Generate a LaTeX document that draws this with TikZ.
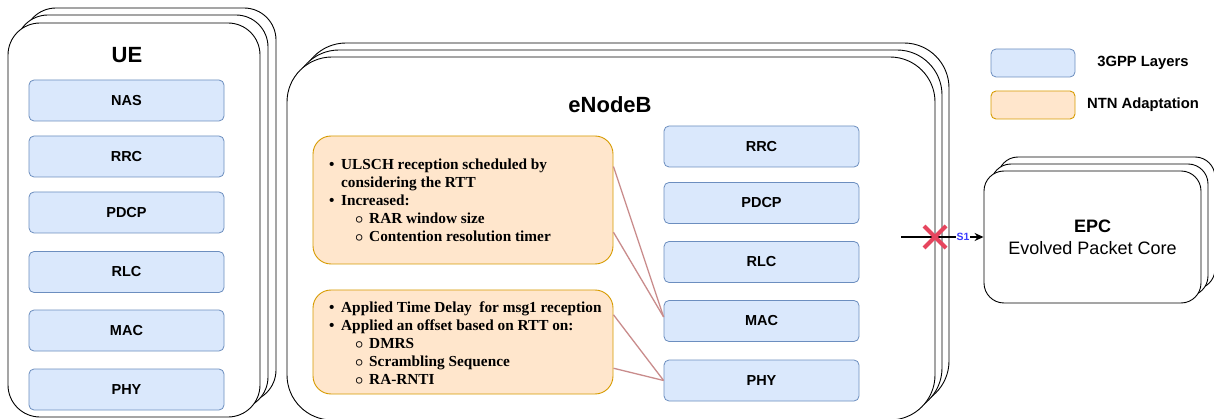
\documentclass[tikz,border=0pt]{standalone}
\usepackage{fontspec}
\setmainfont{Liberation Sans}
\newfontfamily\notefont{Liberation Serif}
\usetikzlibrary{arrows.meta,calc}

\definecolor{layerfill}{HTML}{DAE8FC}
\definecolor{layerline}{HTML}{6C8EBF}
\definecolor{ntnfill}{HTML}{FFE6CC}
\definecolor{ntnline}{HTML}{D79B00}
\definecolor{linkline}{HTML}{C98C8C}
\definecolor{crossred}{HTML}{E6455E}
\definecolor{sonetext}{HTML}{3B3BFF}

\newcommand{\subdot}{{\normalfont\boldmath$\circ$}}

\tikzset{
  stackbox/.style={draw, fill=white, line width=0.9pt},
  layer/.style={draw=layerline, fill=layerfill, line width=0.8pt, rounded corners=5pt,
    minimum width=195pt, minimum height=41pt, inner sep=0pt,
    font=\bfseries\fontsize{14.5}{16}\selectfont},
  ntn/.style={draw=ntnline, fill=ntnfill, line width=0.9pt, rounded corners=18pt,
    minimum width=300pt, inner sep=0pt},
  notetext/.style={anchor=west, align=left, inner sep=0pt,
    font=\notefont\bfseries\fontsize{15.3}{18}\selectfont},
  link/.style={draw=linkline, line width=1.3pt},
  title/.style={font=\bfseries\fontsize{22}{24}\selectfont},
  keytext/.style={font=\bfseries\fontsize{14.8}{16}\selectfont}
}

\begin{document}
\begin{tikzpicture}[x=1pt,y=-1pt]
\clip (0,0) rectangle (1214,419);

\draw[stackbox, rounded corners=32pt] (24,8) rectangle (276,402);
\draw[stackbox, rounded corners=32pt] (16,15) rectangle (268,409);
\draw[stackbox, rounded corners=32pt] (8,23) rectangle (260,417);
\node[title] (ue) at (127,55) {UE};

\node[layer] (uenas) at (126.5,100.5) {NAS};
\node[layer] (uerrc) at (126.5,156.5) {RRC};
\node[layer] (uepdcp) at (126.5,212.5) {PDCP};
\node[layer] (uerlc) at (126.5,272) {RLC};
\node[layer] (uemac) at (126.5,330.5) {MAC};
\node[layer] (uephy) at (126.5,389.5) {PHY};

\draw[stackbox, rounded corners=45pt] (301,43) rectangle (949,406);
\draw[stackbox, rounded corners=45pt] (294,50) rectangle (942,413);
\draw[stackbox, rounded corners=45pt] (287,57) rectangle (935,420);
\node[title] (enb) at (610,105) {eNodeB};

\node[layer] (enbrrc) at (761.5,146.5) {RRC};
\node[layer] (enbpdcp) at (761.5,203) {PDCP};
\node[layer] (enbrlc) at (761.5,262) {RLC};
\node[layer] (enbmac) at (761.5,321) {MAC};
\node[layer] (enbphy) at (761.5,380.5) {PHY};

\node[ntn, minimum height=128pt] (ntnmac) at (463,200) {};
\node[ntn, minimum height=104pt] (ntnphy) at (463,342) {};

\node[notetext] (macnote) at (329,200) {%
\makebox[12pt][l]{•}ULSCH reception scheduled by\\
\hspace*{12pt}considering the RTT\\
\makebox[12pt][l]{•}Increased:\\
\hspace*{26pt}\makebox[14pt][l]{\subdot}RAR window size\\
\hspace*{26pt}\makebox[14pt][l]{\subdot}Contention resolution timer};

\node[notetext] (phynote) at (329,343) {%
\makebox[12pt][l]{•}Applied Time Delay\ \ for msg1 reception\\
\makebox[12pt][l]{•}Applied an offset based on RTT on:\\
\hspace*{26pt}\makebox[14pt][l]{\subdot}DMRS\\
\hspace*{26pt}\makebox[14pt][l]{\subdot}Scrambling Sequence\\
\hspace*{26pt}\makebox[14pt][l]{\subdot}RA-RNTI};

\draw[link] ($(ntnmac.north east)!0.24!(ntnmac.south east)$) -- ([yshift=4pt]enbmac.west);
\draw[link] ($(ntnmac.north east)!0.75!(ntnmac.south east)$) -- ([yshift=4pt]enbmac.west);
\draw[link] ($(ntnphy.north east)!0.24!(ntnphy.south east)$) -- (enbphy.west);
\draw[link] ($(ntnphy.north east)!0.75!(ntnphy.south east)$) -- (enbphy.west);

\draw[stackbox, rounded corners=20pt] (998,157) rectangle (1215,289);
\draw[stackbox, rounded corners=20pt] (991,164) rectangle (1208,296);
\node[stackbox, rounded corners=20pt, minimum width=217pt, minimum height=132pt,
  align=center, font=\fontsize{18}{22}\selectfont] (epc) at (1092.5,237)
  {\textbf{EPC}\\Evolved Packet Core};

\coordinate (s1start) at (901,237);
\draw[line width=1.3pt, -{Stealth[length=9pt,width=8pt]}] (s1start) -- (epc.west)
  node[pos=0.75, fill=white, inner sep=1pt, text=sonetext,
    font=\bfseries\fontsize{10.5}{12}\selectfont] (s1) {S1};
\draw[crossred, line width=4pt] (924,226) -- (946,248);
\draw[crossred, line width=4pt] (924,248) -- (946,226);

\node[layer, minimum width=84pt, minimum height=28pt] (key3gpp) at (1033,63) {};
\node[keytext] (key3gpptext) at (1143,63) {3GPP Layers};
\node[ntn, rounded corners=5pt, minimum width=84pt, minimum height=28pt] (keyntn) at (1033,105) {};
\node[keytext] (keyntntext) at (1143,105) {NTN Adaptation};
\end{tikzpicture}
\end{document}
